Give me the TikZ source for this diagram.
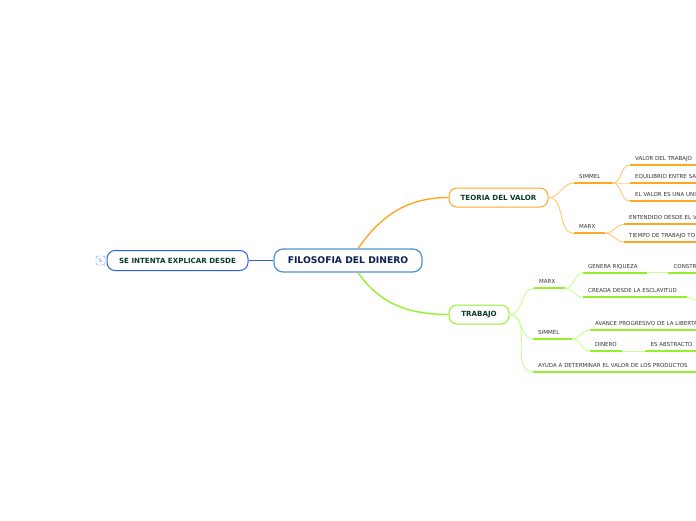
\documentclass[tikz,border=0pt]{standalone}
\usepackage{fontspec}
\setmainfont{DejaVu Sans}
\usetikzlibrary{positioning}
\definecolor{mblue}{HTML}{4A93D6}
\definecolor{lblue}{HTML}{2F5FE8}
\definecolor{navy}{HTML}{0B1F4F}
\definecolor{dgreen}{HTML}{0A3B2A}
\definecolor{porange}{HTML}{FFA624}
\definecolor{porangelt}{HTML}{FFCB7A}
\definecolor{pgreen}{HTML}{93F02A}
\definecolor{pgreenlt}{HTML}{CBFF96}
\definecolor{tgray}{HTML}{333333}

\tikzset{
  topic/.style={draw, rounded corners=8pt, fill=white, line width=1pt,
    font=\fontsize{7.1}{8}\selectfont\bfseries, text=dgreen,
    minimum height=19pt, inner sep=0pt},
  sub/.style={anchor=south west, inner xsep=5pt, inner ysep=3pt,
    text height=4pt, text depth=1.2pt, text width=#1, align=left,
    font=\fontsize{5.5}{6}\selectfont, text=tgray},
  oline/.style={porange, line width=1.8pt},
  olink/.style={porangelt, line width=1pt},
  gline/.style={pgreen, line width=1.8pt},
  glink/.style={pgreenlt, line width=1pt}
}

\begin{document}
\begin{tikzpicture}[x=1pt, y=1pt]
  \path[use as bounding box, clip] (0,0) rectangle (696,-520);

  % main topics
  \node[draw=mblue, line width=1.2pt, rounded corners=9pt, fill=white,
        minimum width=148pt, minimum height=23pt, inner sep=0pt,
        font=\fontsize{9.2}{10}\selectfont\bfseries, text=navy] (cen)
        at (348,-260.5) {FILOSOFIA DEL DINERO};
  \node[topic, draw=lblue, minimum width=141pt, minimum height=20pt] (desde)
        at (177.5,-260.5) {SE INTENTA EXPLICAR DESDE};
  \node[draw=lblue!70, rounded corners=2pt, minimum size=9pt, inner sep=0pt,
        font=\fontsize{4.5}{4.5}\selectfont, text=lblue] (count)
        at (100.5,-260.5) {5};
  \node[topic, draw=porange, minimum width=99pt] (teoria)
        at (498.5,-197.5) {TEORIA DEL VALOR};
  \node[topic, draw=pgreen, minimum width=60pt] (trab)
        at (479,-314.5) {TRABAJO};

  \draw[lblue, line width=1pt] (desde.east) -- (cen.west);
  \draw[porange, line width=1.4pt] ([xshift=10pt]cen.north)
    to[out=55, in=180] (teoria.west);
  \draw[pgreen, line width=1.4pt] ([xshift=10pt]cen.south)
    to[out=-55, in=180] (trab.west);

  % teoria del valor
  \node[sub=28pt] (os) at (574,-183) {SIMMEL};
  \node[sub=21pt] (om) at (574,-233.3) {MARX};
  \node[sub=80pt] (vt) at (630,-165) {VALOR DEL TRABAJO};
  \node[sub=80pt] (eq) at (630,-183) {EQUILIBRIO ENTRE SA};
  \node[sub=80pt] (un) at (630,-201) {EL VALOR ES UNA UNI};
  \node[sub=86pt] (en) at (624,-224.3) {ENTENDIDO DESDE EL V};
  \node[sub=86pt] (ti) at (624,-242) {TIEMPO DE TRABAJO TO};

  \draw[olink] (teoria.east) to[out=0, in=180] (os.south west);
  \draw[olink] (teoria.east) to[out=0, in=180] (om.south west);
  \foreach \c in {vt,eq,un}
    \draw[olink] (os.south east) to[out=0, in=180] (\c.south west);
  \foreach \c in {en,ti}
    \draw[olink] (om.south east) to[out=0, in=180] (\c.south west);
  \foreach \n in {os,om,vt,eq,un,en,ti}
    \draw[oline] (\n.south west) -- (\n.south east);

  % trabajo
  \node[sub=21pt] (gm) at (534,-288.3) {MARX};
  \node[sub=29pt] (gs) at (533,-338.7) {SIMMEL};
  \node[sub=177pt] (ga) at (533,-371.7)
    {AYUDA A DETERMINAR EL VALOR DE LOS PRODUCTOS};
  \node[sub=54pt] (gen) at (583,-272.7) {GENERA RIQUEZA};
  \node[sub=52pt, right=21pt of gen] (con) {CONSTR};
  \node[sub=94pt] (cre) at (583,-297.3) {CREADA DESDE LA ESCLAVITUD};
  \coordinate (creout) at (714,-312);
  \node[sub=120pt] (av) at (590,-330) {AVANCE PROGRESIVO DE LA LIBERTA};
  \node[sub=22pt] (din) at (590,-351) {DINERO};
  \node[sub=65pt, right=23pt of din] (abs) {ES ABSTRACTO};

  \foreach \c in {gm,gs,ga}
    \draw[glink] (trab.east) to[out=0, in=180] (\c.south west);
  \foreach \c in {gen,cre}
    \draw[glink] (gm.south east) to[out=0, in=180] (\c.south west);
  \foreach \c in {av,din}
    \draw[glink] (gs.south east) to[out=0, in=180] (\c.south west);
  \draw[glink] (gen.south east) -- (con.south west);
  \draw[glink] (din.south east) -- (abs.south west);
  \draw[glink] (cre.south east) to[out=0, in=180] (creout);
  \foreach \n in {gm,gs,ga,gen,con,cre,av,din,abs}
    \draw[gline] (\n.south west) -- (\n.south east);
\end{tikzpicture}
\end{document}
